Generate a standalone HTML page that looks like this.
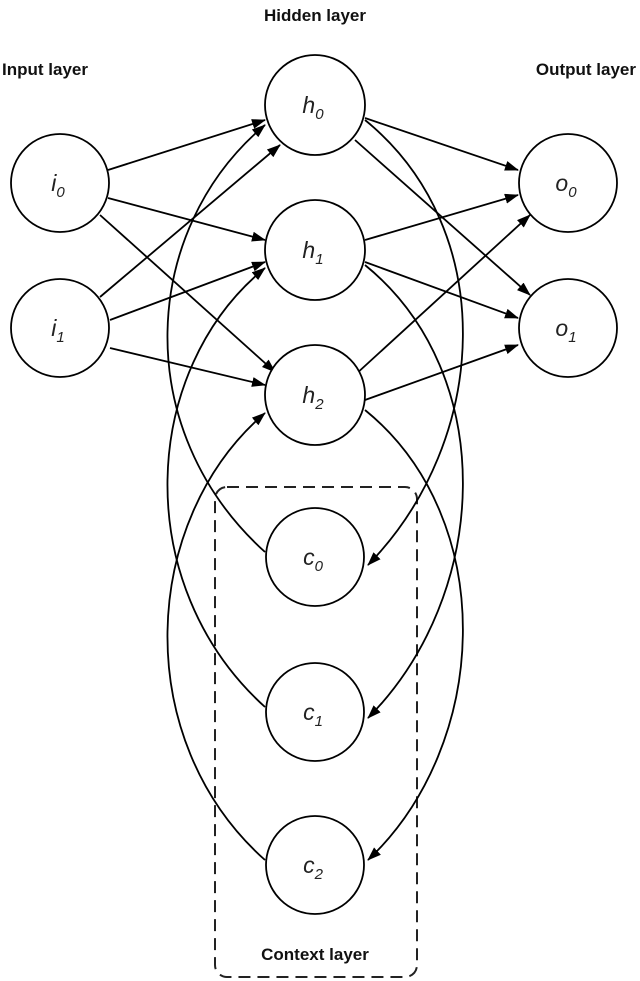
<!DOCTYPE html>
<html><head><style>body{margin:0;background:#fff}svg{display:block}</style></head><body>
<svg width="640" height="981" viewBox="0 0 640 981" xmlns="http://www.w3.org/2000/svg">
<defs><marker id="a" markerWidth="14" markerHeight="10" refX="13" refY="5" orient="auto" markerUnits="userSpaceOnUse"><path d="M0,0 L14,5 L0,10 z" fill="#000"/></marker></defs>
<g font-family="Liberation Sans, sans-serif" font-weight="bold" font-size="17" fill="#111">
<text x="315" y="21" text-anchor="middle">Hidden layer</text>
<text x="2" y="75">Input layer</text>
<text x="636" y="75" text-anchor="end">Output layer</text>
<text x="315" y="960" text-anchor="middle">Context layer</text>
</g>
<rect x="215" y="487" width="202" height="490" rx="12" fill="none" stroke="#222" stroke-width="2" stroke-dasharray="12,7"/>
<g stroke="#000" stroke-width="1.8" fill="none" marker-end="url(#a)">
<line x1="108" y1="170" x2="265" y2="120"/>
<line x1="108" y1="198" x2="265" y2="240"/>
<line x1="100" y1="215" x2="275" y2="372"/>
<line x1="100" y1="297" x2="280" y2="145"/>
<line x1="110" y1="320" x2="265" y2="262"/>
<line x1="110" y1="348" x2="265" y2="385"/>
<line x1="365" y1="118" x2="518" y2="170"/>
<line x1="355" y1="140" x2="530" y2="295"/>
<line x1="365" y1="240" x2="518" y2="195"/>
<line x1="365" y1="262" x2="518" y2="318"/>
<line x1="355" y1="375" x2="530" y2="215"/>
<line x1="365" y1="400" x2="518" y2="345"/>
<path d="M265,552 C130,430 140,230 265,125"/>
<path d="M265,707 C130,585 140,370 265,268"/>
<path d="M265,860 C130,740 140,520 265,413"/>
<path d="M365,120 C500,230 490,440 368,565"/>
<path d="M365,265 C500,375 490,595 368,718"/>
<path d="M365,410 C500,520 490,745 368,860"/>
</g>
<g stroke="#000" stroke-width="1.8" fill="#fff">
<circle cx="60" cy="183" r="49"/><circle cx="60" cy="328" r="49"/>
<circle cx="315" cy="105" r="50"/><circle cx="315" cy="250" r="50"/><circle cx="315" cy="395" r="50"/>
<circle cx="568" cy="183" r="49"/><circle cx="568" cy="328" r="49"/>
<circle cx="315" cy="557" r="49"/><circle cx="315" cy="712" r="49"/><circle cx="315" cy="865" r="49"/>
</g>
<g font-family="Liberation Sans, sans-serif" font-style="italic" font-size="23" fill="#222" text-anchor="middle">
<text x="58" y="191">i<tspan font-size="15" dy="6">0</tspan></text>
<text x="58" y="336">i<tspan font-size="15" dy="6">1</tspan></text>
<text x="313" y="113">h<tspan font-size="15" dy="6">0</tspan></text>
<text x="313" y="258">h<tspan font-size="15" dy="6">1</tspan></text>
<text x="313" y="403">h<tspan font-size="15" dy="6">2</tspan></text>
<text x="566" y="191">o<tspan font-size="15" dy="6">0</tspan></text>
<text x="566" y="336">o<tspan font-size="15" dy="6">1</tspan></text>
<text x="313" y="565">c<tspan font-size="15" dy="6">0</tspan></text>
<text x="313" y="720">c<tspan font-size="15" dy="6">1</tspan></text>
<text x="313" y="873">c<tspan font-size="15" dy="6">2</tspan></text>
</g>
</svg>
</body></html>
